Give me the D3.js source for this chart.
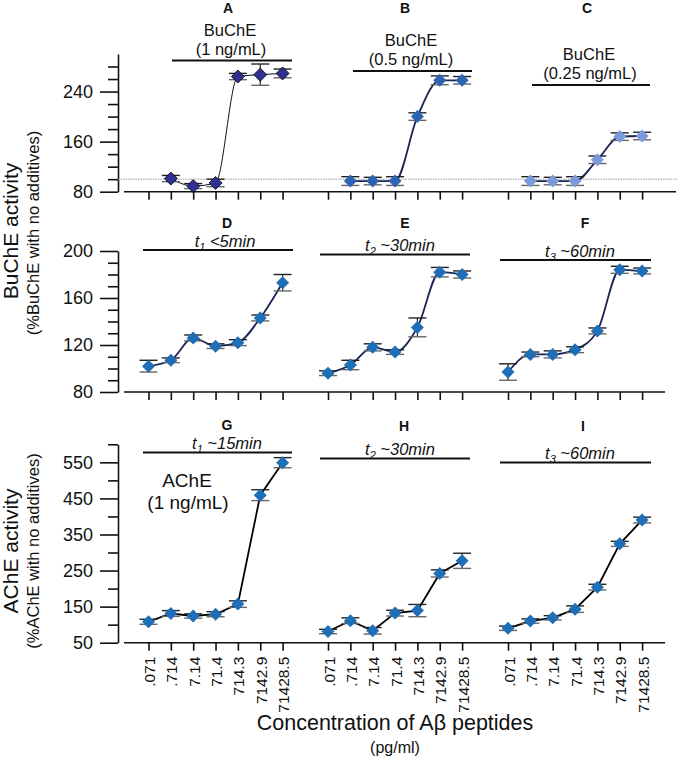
<!DOCTYPE html>
<html><head><meta charset="utf-8">
<script src="https://cdn.jsdelivr.net/npm/d3@7"></script>
<style>html,body{margin:0;padding:0;background:#fff}svg{display:block;font-family:"Liberation Sans",Arial,sans-serif}</style>
</head><body><svg id="c" width="677" height="759"></svg>
<script>
// ---------- data ----------
const concLabels = [".071", ".714", "7.14", "71.4", "714.3", "7142.9", "71428.5"];
// top row (BuChE concentrations), first concentration not measured
const bucheA = [101, 89, 94, 264, 267, 269];
const bucheAErr = [5, 4, 6, 5, 17, 7];
const bucheB = [97, 97, 97, 200, 258, 258];
const bucheBErr = [7, 6, 7, 6, 7, 6];
const bucheC = [97, 97, 97, 131, 168, 169];
const bucheCErr = [7, 6, 7, 6, 6, 6];
// middle row (BuChE incubation time)
const bucheD = [102, 107, 126, 119, 122, 143, 173];
const bucheDErr = [5, 2, 2.5, 2, 2.5, 2.5, 7];
const bucheE = [96, 103, 118, 114, 135, 182, 180];
const bucheEErr = [2, 4, 3, 2, 8, 4, 3];
const bucheF = [97, 112, 112, 116, 132, 184, 183];
const bucheFErr = [7, 2, 3, 2.5, 2.5, 3, 2.5];
// bottom row (AChE incubation time)
const acheG = [108, 131, 124, 129, 157, 459, 549];
const acheGErr = [7, 8, 6, 7, 9, 15, 14];
const acheH = [81, 111, 83, 132, 139, 242, 277];
const acheHErr = [6, 8, 9, 8, 17, 10, 21];
const acheI = [90, 110, 119, 143, 204, 324, 390];
const acheIErr = [6, 6, 6, 9, 8, 7, 8];
const topTicks = [80, 100, 120, 140, 160, 180, 200, 220, 240, 260, 280];
const topLabels = [80, 160, 240];
const midTicks = [80, 90, 100, 110, 120, 130, 140, 150, 160, 170, 180, 190, 200];
const midLabels = [80, 120, 160, 200];
const botTicks = [50, 100, 150, 200, 250, 300, 350, 400, 450, 500, 550, 600];
const botLabels = [50, 150, 250, 350, 450, 550];

// ---------- layout ----------
const svg = d3.select("#c");
const AXX = 118;
const colX0 = [148.5, 328, 508], STEP = 22.35;
const xs = colX0.map(x0 => d3.scaleLinear().domain([0, 6]).range([x0, x0 + 6 * STEP]));
const rows = [
  {y: d3.scaleLinear().domain([80, 300]).range([191.7, 54]), ticks: topTicks, labels: topLabels, base: 80},
  {y: d3.scaleLinear().domain([80, 200]).range([392, 251]), ticks: midTicks, labels: midLabels, base: 80},
  {y: d3.scaleLinear().domain([50, 600]).range([642.7, 444.3]), ticks: botTicks, labels: botLabels, base: 50}
];

rows.forEach((r, ri) => {
  const g = svg.append("g").attr("transform", `translate(${AXX},0)`);
  const minor = r.ticks.filter(t => !r.labels.includes(t));
  g.append("g").call(d3.axisLeft(r.y).tickValues(minor).tickSize(10).tickSizeOuter(0).tickFormat(""))
    .call(s => s.select(".domain").remove());
  g.append("g").call(d3.axisLeft(r.y).tickValues(r.labels).tickSize(18).tickSizeOuter(0).tickPadding(7))
    .call(s => s.selectAll("text").attr("font-size", 18).attr("fill", "#111").attr("font-family", "Liberation Sans, Arial"));
  g.selectAll("line,path").attr("stroke", "#111").attr("stroke-width", 1.6);
  // x axis
  const yb = r.y(r.base);
  svg.append("line").attr("x1", 124).attr("x2", ri === 0 ? 676 : 665).attr("y1", yb).attr("y2", yb)
    .attr("stroke", "#111").attr("stroke-width", 1.6);
  xs.forEach(x => {
    const ax = svg.append("g").attr("transform", `translate(0,${yb})`)
      .call(d3.axisBottom(x).tickValues(d3.range(7)).tickSize(8).tickSizeOuter(0).tickFormat(""));
    ax.select(".domain").remove();
    ax.selectAll("line").attr("stroke", "#111").attr("stroke-width", 1.6);
    if (ri === 2) {
      ax.selectAll(".tick").append("text")
        .attr("transform", "translate(6,14) rotate(-90)")
        .attr("text-anchor", "end").attr("fill", "#111").attr("font-size", 15.5)
        .text(d => concLabels[d]);
    }
  });
});

// dotted 100% line in top row
svg.append("line").attr("x1", AXX).attr("x2", 677)
  .attr("y1", rows[0].y(100)).attr("y2", rows[0].y(100))
  .attr("stroke", "#999").attr("stroke-width", 1).attr("stroke-dasharray", "1.5,1");

// ---------- series ----------
const panels = [
  {row: 0, col: 0, v: bucheA, e: bucheAErr, off: 1, fill: "#2e3192", stroke: "#000", sw: 0.8, line: "#111", lw: 1, curve: d3.curveMonotoneX},
  {row: 0, col: 1, v: bucheB, e: bucheBErr, off: 1, fill: "#2a64b2", stroke: "none", sw: 0, line: "#1a2456", lw: 1.8, curve: d3.curveMonotoneX},
  {row: 0, col: 2, v: bucheC, e: bucheCErr, off: 1, fill: "#7c9ad9", stroke: "none", sw: 0, line: "#1a2456", lw: 1.8, curve: d3.curveMonotoneX},
  {row: 1, col: 0, v: bucheD, e: bucheDErr, off: 0, fill: "#1f6fb8", stroke: "none", sw: 0, line: "#1a2456", lw: 1.8, curve: d3.curveMonotoneX},
  {row: 1, col: 1, v: bucheE, e: bucheEErr, off: 0, fill: "#1f6fb8", stroke: "none", sw: 0, line: "#1a2456", lw: 1.8, curve: d3.curveMonotoneX},
  {row: 1, col: 2, v: bucheF, e: bucheFErr, off: 0, fill: "#1f6fb8", stroke: "none", sw: 0, line: "#1a2456", lw: 1.8, curve: d3.curveMonotoneX},
  {row: 2, col: 0, v: acheG, e: acheGErr, off: 0, fill: "#1f6fb8", stroke: "none", sw: 0, line: "#000", lw: 1.8, curve: d3.curveLinear},
  {row: 2, col: 1, v: acheH, e: acheHErr, off: 0, fill: "#1f6fb8", stroke: "none", sw: 0, line: "#000", lw: 1.8, curve: d3.curveLinear},
  {row: 2, col: 2, v: acheI, e: acheIErr, off: 0, fill: "#1f6fb8", stroke: "none", sw: 0, line: "#000", lw: 1.8, curve: d3.curveLinear}
];
panels.forEach(p => {
  const x = xs[p.col], y = rows[p.row].y;
  const pts = p.v.map((v, i) => ({x: x(i + p.off), y: y(v), lo: y(v - p.e[i]), hi: y(v + p.e[i])}));
  const g = svg.append("g");
  g.append("path").attr("d", d3.line().x(d => d.x).y(d => d.y).curve(p.curve)(pts))
    .attr("fill", "none").attr("stroke", p.line).attr("stroke-width", p.lw);
  const eb = g.selectAll(".eb").data(pts).join("g");
  eb.append("line").attr("x1", d => d.x).attr("x2", d => d.x).attr("y1", d => d.lo).attr("y2", d => d.hi)
    .attr("stroke", "#222").attr("stroke-width", 1.2);
  eb.append("line").attr("x1", d => d.x - 9).attr("x2", d => d.x + 9).attr("y1", d => d.hi).attr("y2", d => d.hi)
    .attr("stroke", "#222").attr("stroke-width", 1.4);
  eb.append("line").attr("x1", d => d.x - 9).attr("x2", d => d.x + 9).attr("y1", d => d.lo).attr("y2", d => d.lo)
    .attr("stroke", "#666").attr("stroke-width", 1.4);
  g.selectAll(".m").data(pts).join("path")
    .attr("d", d => `M${d.x},${d.y - 6.5}L${d.x + 6.5},${d.y}L${d.x},${d.y + 6.5}L${d.x - 6.5},${d.y}Z`)
    .attr("fill", p.fill).attr("stroke", p.stroke).attr("stroke-width", p.sw);
});

// ---------- panel headings ----------
function txt(x, y, s, size, opts = {}) {
  return svg.append("text").attr("x", x).attr("y", y).attr("text-anchor", "middle")
    .attr("font-size", size).attr("fill", "#111")
    .attr("font-weight", opts.bold ? "bold" : null).attr("font-style", opts.italic ? "italic" : null).text(s);
}
function bar(x1, x2, y) {
  svg.append("line").attr("x1", x1).attr("x2", x2).attr("y1", y).attr("y2", y).attr("stroke", "#111").attr("stroke-width", 1.8);
}
function timeLabel(x, y, sub, rest) {
  const t = svg.append("text").attr("x", x).attr("y", y).attr("text-anchor", "middle")
    .attr("font-size", 16.5).attr("font-style", "italic").attr("fill", "#111");
  t.append("tspan").text("t");
  t.append("tspan").attr("font-size", 11).attr("dy", 4).text(sub);
  t.append("tspan").attr("dy", -4).text(" " + rest);
}
const letters = ["A", "B", "C", "D", "E", "F", "G", "H", "I"];
const letterX = [228, 405, 587, 227, 405, 585, 227, 404, 583];
const letterY = [13, 13, 13, 228, 228, 228, 430, 431, 431];
letters.forEach((l, i) => txt(letterX[i], letterY[i], l, 14, {bold: true}));

txt(230, 36, "BuChE", 16.5); txt(231, 55, "(1 ng/mL)", 16.5); bar(172, 292, 60.5);
txt(411, 46, "BuChE", 16.5); txt(411, 65, "(0.5 ng/mL)", 16.5); bar(353, 472, 71);
txt(589, 60, "BuChE", 16.5); txt(590, 79, "(0.25 ng/mL)", 16.5); bar(532, 650, 85);

timeLabel(225, 247, "1", "<5min"); bar(143, 293, 250);
timeLabel(400, 251, "2", "~30min"); bar(320, 470, 254.5);
timeLabel(580, 257, "3", "~60min"); bar(500, 651, 260);

timeLabel(227, 449, "1", "~15min"); bar(143, 292, 452.5);
timeLabel(400, 455, "2", "~30min"); bar(320, 470, 458.5);
timeLabel(580, 459, "3", "~60min"); bar(500, 651, 462.5);

txt(187, 487, "AChE", 19); txt(188, 509, "(1 ng/mL)", 19);

// ---------- axis titles ----------
svg.append("text").attr("transform", "translate(18,231) rotate(-90)").attr("text-anchor", "middle")
  .attr("font-size", 21).attr("fill", "#111").text("BuChE activity");
svg.append("text").attr("transform", "translate(39,233) rotate(-90)").attr("text-anchor", "middle")
  .attr("font-size", 16.5).attr("fill", "#111").text("(%BuChE with no additives)");
svg.append("text").attr("transform", "translate(18,551) rotate(-90)").attr("text-anchor", "middle")
  .attr("font-size", 21).attr("fill", "#111").text("AChE activity");
svg.append("text").attr("transform", "translate(39,551) rotate(-90)").attr("text-anchor", "middle")
  .attr("font-size", 16.5).attr("fill", "#111").text("(%AChE with no additives)");
txt(395, 730, "Concentration of Aβ peptides", 21.5);
txt(395, 753, "(pg/ml)", 16);
</script></body></html>
